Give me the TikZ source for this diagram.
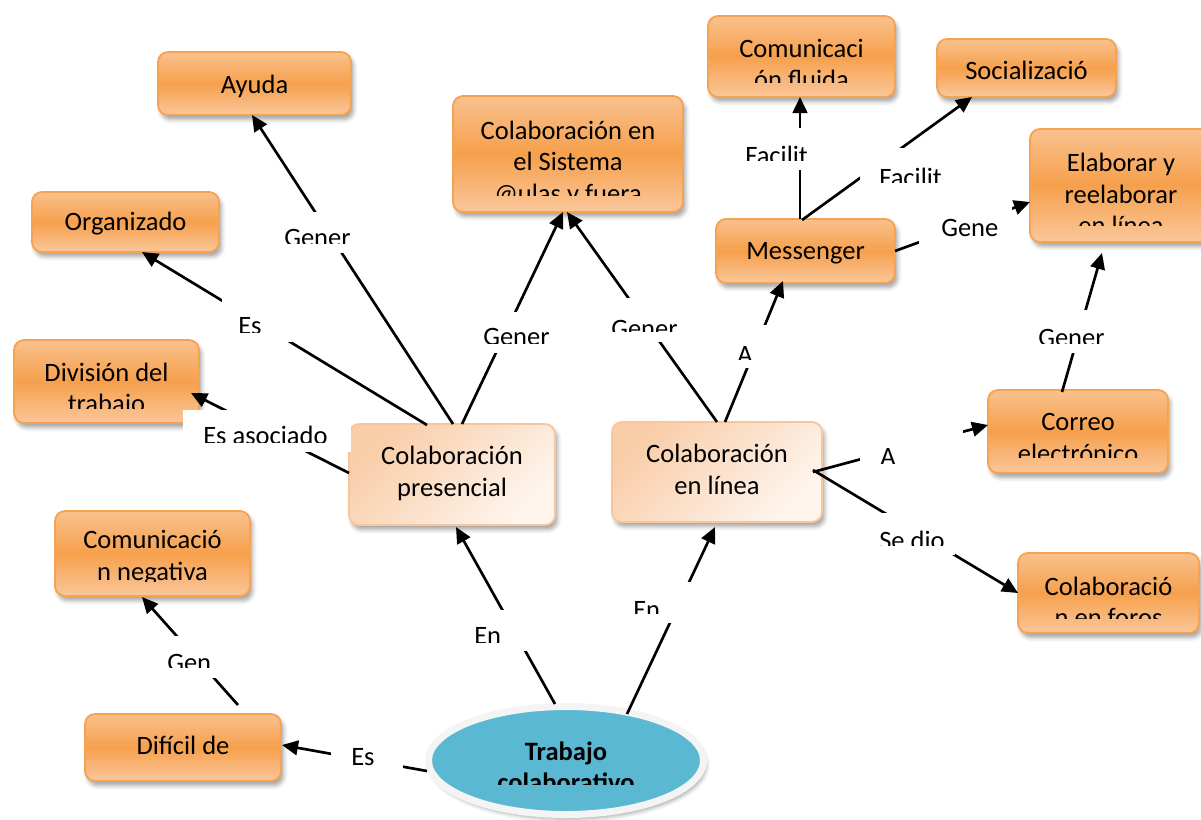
\documentclass[tikz,border=0pt]{standalone}
\usepackage{fontspec}
\setmainfont{Carlito}
\usetikzlibrary{arrows.meta,shapes.geometric,shadows,shadows.blur,fit}

\definecolor{orTop}{HTML}{F9C18E}
\definecolor{orMid}{HTML}{F6A04C}
\definecolor{orBot}{HTML}{FAC79B}
\definecolor{orLine}{HTML}{F5A252}
\definecolor{peachA}{HTML}{F9CDA8}
\definecolor{peachB}{HTML}{FEF5EE}
\definecolor{peachLine}{HTML}{F9C69C}
\definecolor{blueFill}{HTML}{5BB8D2}
\definecolor{ringGray}{HTML}{F4F4F4}

\newcommand\cmfont{\fontsize{19.9}{24}\selectfont}

\tikzset{
  sz/.style 2 args={minimum width=#1*0.75pt, minimum height=#2*0.75pt},
  softshadow/.style={blur shadow={shadow xshift=2pt, shadow yshift=-3.5pt,
      shadow blur radius=3pt, shadow opacity=35}},
  obox/.style={rectangle, rounded corners=7.5pt, draw=orLine, line width=1.4pt,
      top color=orTop, bottom color=orBot, middle color=orMid,
      softshadow, inner sep=0pt},
  pbox/.style={rectangle, rounded corners=7.5pt, draw=peachLine, line width=1.4pt,
      top color=peachA, bottom color=peachB, shading angle=45,
      softshadow, inner sep=0pt},
  btxt/.style={font=\cmfont, inner sep=0pt, anchor=base},
  ltxt/.style={font=\cmfont, inner sep=0pt, anchor=base west},
  gapbox/.style={fill=white, draw=none, inner sep=0pt},
  conn/.style={line width=2pt, -{Triangle[length=12pt, width=11pt]}},
}

% text cut off below a given height
\newcommand\upto[1]{\clip (0,0) rectangle (1201,#1);}
% link label: name, corner, corner, text point, cut height, text
\newcommand\lbl[6]{%
  \node[gapbox, fit={#2 #3}] (#1) {};
  \begin{scope}\upto{#5}
    \node[ltxt] (#1-t) at #4 {#6};
  \end{scope}}

\begin{document}
\begin{tikzpicture}[x=0.75pt,y=-0.75pt]
\useasboundingbox (0,0) rectangle (1201,819);
\clip (0,0) rectangle (1201,819);

% central concept
\node[ellipse, draw=ringGray, line width=5.25pt, fill=blueFill, sz={275}{108},
      softshadow] (trab) at (566,760.5) {};
\begin{scope}\upto{784}
  \node[btxt, font=\cmfont\bfseries] (trab-t1) at (566,760) {Trabajo};
  \node[btxt, font=\cmfont\bfseries] (trab-t2) at (566,791.5) {colaborativo};
\end{scope}

% concept boxes
\node[obox, sz={193}{63}]  (ayuda)  at (254.5,83.5) {};
\node[obox, sz={187}{60}]  (organ)  at (125.5,222) {};
\node[obox, sz={230}{116}] (sist)   at (568,154) {};
\node[obox, sz={187}{81}]  (cflu)   at (801.5,56.5) {};
\node[obox, sz={179}{58}]  (social) at (1026.5,68) {};
\node[obox, sz={182}{113}] (elab)   at (1121,185.5) {};
\node[obox, sz={179}{64}]  (msn)    at (805.5,251) {};
\node[obox, sz={185}{83}]  (divis)  at (106.5,381.5) {};
\node[pbox, sz={206}{101}] (pres)   at (452,474.5) {};
\node[pbox, sz={210}{100}] (linea)  at (717,472) {};
\node[obox, sz={180}{83}]  (correo) at (1078,431.5) {};
\node[obox, sz={181}{80}]  (foros)  at (1108.5,593) {};
\node[obox, sz={195}{85}]  (cneg)   at (152.5,553.5) {};
\node[obox, sz={196}{67}]  (dific)  at (183,747.5) {};

% box texts
\node[btxt] (ayuda-t) at (254.5,93) {Ayuda};
\node[btxt] (organ-t) at (125.5,230) {Organizado};
\begin{scope}\upto{195}
  \node[btxt] (sist-t1) at (568,139) {Colaboración en};
  \node[btxt] (sist-t2) at (568,170.5) {el Sistema};
  \node[btxt] (sist-t3) at (568,202) {@ulas y fuera};
\end{scope}
\begin{scope}\upto{82}
  \node[btxt] (cflu-t1) at (801.5,57) {Comunicaci};
  \node[btxt] (cflu-t2) at (801.5,88.5) {ón fluida};
\end{scope}
\node[btxt] (social-t) at (1026.5,79) {Socializació};
\begin{scope}\upto{225}
  \node[btxt] (elab-t1) at (1121,171.5) {Elaborar y};
  \node[btxt] (elab-t2) at (1121,203) {reelaborar};
  \node[btxt] (elab-t3) at (1121,234.5) {en línea};
\end{scope}
\node[btxt] (msn-t) at (805.5,259) {Messenger};
\begin{scope}\upto{408}
  \node[btxt] (divis-t1) at (106.5,381) {División del};
  \node[btxt] (divis-t2) at (106.5,412.5) {trabajo};
\end{scope}
\node[btxt] (pres-t1) at (452,464.5) {Colaboración};
\node[btxt] (pres-t2) at (452,496.5) {presencial};
\node[btxt] (linea-t1) at (717,462.5) {Colaboración};
\node[btxt] (linea-t2) at (717,494.5) {en línea};
\begin{scope}\upto{457}
  \node[btxt] (correo-t1) at (1078,430.5) {Correo};
  \node[btxt] (correo-t2) at (1078,462) {electrónico};
\end{scope}
\begin{scope}\upto{618}
  \node[btxt] (foros-t1) at (1108.5,595) {Colaboració};
  \node[btxt] (foros-t2) at (1108.5,626.5) {n en foros};
\end{scope}
\begin{scope}\upto{581.5}
  \node[btxt] (cneg-t1) at (152.5,548.5) {Comunicació};
  \node[btxt] (cneg-t2) at (152.5,580) {n negativa};
\end{scope}
\node[btxt] (dific-t) at (183,754) {Difícil de};

% connectors
\draw[conn] ([shift={(-11,-56.5)}]trab.center) -- ([shift={(4,52.5)}]pres.center);
\draw[conn] ([shift={(61,-46.5)}]trab.center) -- ([shift={(-2,55)}]linea.center);
\draw[conn] ([shift={(-139,10.5)}]trab.center) -- ([shift={(99,-2.5)}]dific.center);
\draw[conn] ([shift={(55,-42.5)}]dific.center) -- ([shift={(-10.5,43.5)}]cneg.center);
\draw[conn] ([shift={(-103,-1.5)}]pres.center) -- ([shift={(84.5,11.5)}]divis.center);
\draw[conn] ([shift={(-25,-49.5)}]pres.center) -- ([shift={(16.5,30)}]organ.center);
\draw[conn] ([shift={(1,-50.5)}]pres.center) -- ([shift={(-2.5,31.5)}]ayuda.center);
\draw[conn] ([shift={(10,-50.5)}]pres.center) -- ([shift={(-5,58)}]sist.center);
\draw[conn] ([shift={(0,-50)}]linea.center) -- ([shift={(-1,58)}]sist.center);
\draw[conn] ([shift={(8,-50)}]linea.center) -- ([shift={(-22.5,30)}]msn.center);
\draw[conn] ([shift={(96,0)}]linea.center) -- ([shift={(-90,-6.5)}]correo.center);
\draw[conn] ([shift={(96,-2)}]linea.center) -- ([shift={(-90.5,0)}]foros.center);
\draw[conn] ([shift={(-5.5,-32)}]msn.center) -- ([shift={(-1.5,40.5)}]cflu.center);
\draw[conn] ([shift={(-3.5,-31)}]msn.center) -- ([shift={(-54.5,29)}]social.center);
\draw[conn] ([shift={(89.5,0)}]msn.center) -- ([shift={(-91,16.5)}]elab.center);
\draw[conn] ([shift={(-16,-39.5)}]correo.center) -- ([shift={(-19,67.5)}]elab.center);

% link labels
\lbl{l1}{(468,610)}{(528,651)}{(474,644.7)}{642}{En}
\lbl{l2}{(628,582)}{(700,623)}{(633,618.5)}{613}{En}
\lbl{l3}{(331,738)}{(403,778)}{(351,765.5)}{819}{Es}
\lbl{l4}{(160,636)}{(232,678)}{(167,671.5)}{667}{Gen}
\lbl{l5}{(183,410)}{(351,452)}{(203,444.5)}{442}{Es asociado}
\lbl{l6}{(222,298)}{(292,342)}{(238,334.5)}{332}{Es}
\lbl{l7}{(280,212)}{(352,253)}{(284,246.5)}{243}{Gener}
\lbl{l8}{(478,312)}{(552,353)}{(483,345.5)}{343}{Gener}
\lbl{l9}{(605,298)}{(682,342)}{(611,337.5)}{331}{Gener}
\lbl{l10}{(730,325)}{(770,368)}{(737,363.5)}{359.5}{A}
\lbl{l11}{(860,425)}{(963,468)}{(880,465.5)}{463}{A}
\lbl{l12}{(875,513)}{(955,555)}{(879,549.5)}{545}{Se dio}
\lbl{l13}{(740,128)}{(810,170)}{(745,164.5)}{160}{Facilit}
\lbl{l14}{(860,148)}{(946,182)}{(879,186.5)}{182}{Facilit}
\lbl{l15}{(919,200)}{(1012,246)}{(941,236.5)}{819}{Gene}
\lbl{l16}{(1033,310)}{(1110,353)}{(1038,346.5)}{343}{Gener}
\end{tikzpicture}
\end{document}
